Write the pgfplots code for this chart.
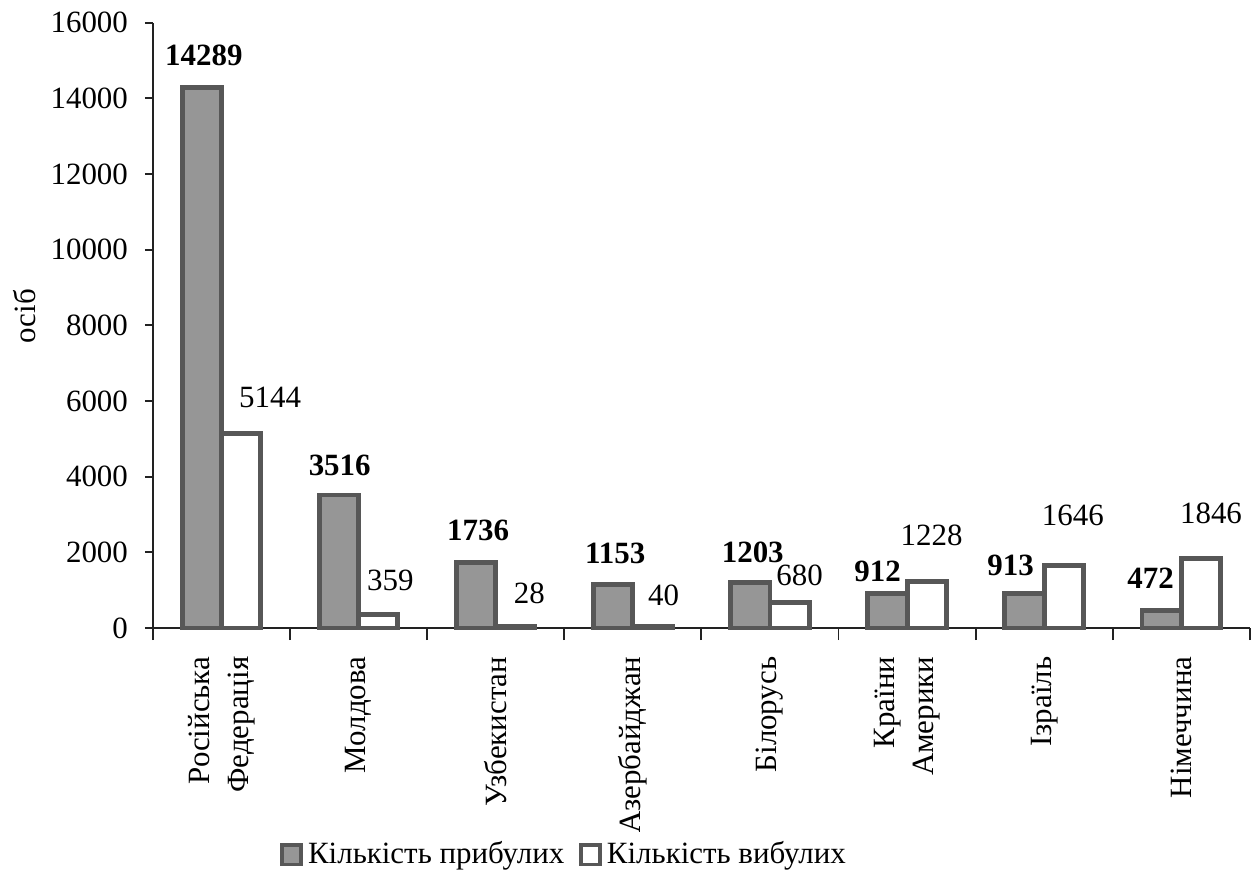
\documentclass[border=0pt]{standalone}
\usepackage{fontspec}
\setmainfont{Liberation Serif}
\usepackage{pgfplots}
\usepackage{pgfplotstable}
\pgfplotsset{compat=1.18}

\definecolor{barfill}{HTML}{969696}
\definecolor{barline}{HTML}{575757}
\definecolor{axisline}{HTML}{222222}

% x, value, label, label offsets (pt)
\pgfplotstableread{
x y lbl dx dy
0 14289 14289 0.8 13
1 3516 3516 0.3 12.2
2 1736 1736 0.8 13
3 1153 1153 0.8 12.6
4 1203 1203 1.0 12.2
5 912 912 -4.0 9
6 913 913 -5.7 11.4
7 472 472 -4.5 13
}\arrived

\pgfplotstableread{
x y lbl dx dy
0 5144 5144 11.8 14.7
1 359 359 4.9 13.8
2 28 28 5.7 13.8
3 40 40 4.5 12.6
4 680 680 4.1 11
5 1228 1228 2.0 18.7
6 1646 1646 3.7 20.4
7 1846 1846 4.1 18.3
}\departed

\pgfplotsset{
    barlabels/.style={
        point meta=explicit symbolic,
        nodes near coords,
        visualization depends on={\thisrow{dx} \as \dx},
        visualization depends on={\thisrow{dy} \as \dy},
        nodes near coords style={anchor=center, xshift=\dx pt, yshift=\dy pt, inner sep=0pt},
    },
}

\begin{document}
\fontsize{12.6}{16}\selectfont
\begin{tikzpicture}
\begin{axis}[
    scale only axis,
    width=446.8pt, height=246.5pt,
    ybar=0pt, bar width=16pt,
    xmin=-0.5, xmax=7.5,
    ymin=0, ymax=16000,
    clip=false,
    axis x line*=bottom,
    axis y line*=left,
    axis line style={line width=0.8pt, color=axisline},
    tick style={line width=0.8pt, color=axisline},
    tick align=outside,
    major tick length=3.3pt,
    minor tick length=4.9pt,
    xtick={0,...,7},
    minor xtick={-0.5,0.5,...,7.5},
    major x tick style={draw=none},
    xticklabels={{Російська\\Федерація},Молдова,Узбекистан,Азербайджан,Білорусь,{Країни\\Америки},Ізраїль,Німеччина},
    xticklabel style={rotate=90, anchor=east, align=right},
    xticklabel shift=4pt,
    ytick={0,2000,...,16000},
    scaled y ticks=false,
    yticklabel shift=2.5pt,
    /pgf/number format/1000 sep={},
    /pgf/number format/assume math mode=true,
    ylabel={осіб},
    ylabel style={at={(axis description cs:-0.1167,0.515)}, anchor=center},
    legend style={at={(axis description cs:0.376,-0.375)}, anchor=center,
        draw=none, legend columns=2,
        /tikz/every even column/.append style={column sep=4pt}},
    legend image code/.code={\draw[#1, line width=1.6pt] (0pt,-3.9pt) rectangle (7.8pt,3.9pt);},
]
\addplot[fill=barfill, draw=barline, line width=2pt, barlabels,
    nodes near coords style={font=\bfseries}]
    table[x=x, y=y, meta=lbl] {\arrived};
\addlegendentry{Кількість прибулих}
\addplot[fill=white, draw=barline, line width=2pt, barlabels]
    table[x=x, y=y, meta=lbl] {\departed};
\addlegendentry{Кількість вибулих}
\end{axis}
\path (-62.3pt,-107.5pt) rectangle (449.7pt,255.8pt);
\end{tikzpicture}
\end{document}
